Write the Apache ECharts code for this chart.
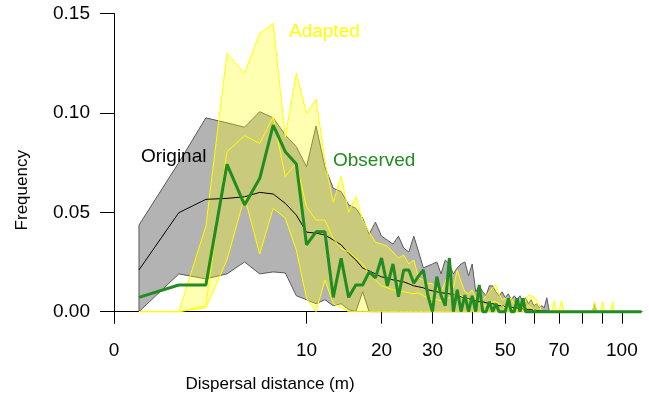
<!DOCTYPE html>
<html>
<head>
<meta charset="utf-8">
<script src="https://cdn.jsdelivr.net/npm/echarts@6/dist/echarts.min.js"></script>
<style>
  html, body { margin: 0; padding: 0; background: #fff; }
  #chart { width: 649px; height: 399px; }
</style>
</head>
<body>
<div id="chart"></div>
<script>
// distance classes (m)
var distance = [1,2,3,4,5,6,7,8,9,10,11,12,13,14,15,16,17,18,19,20,
  21,22,23,24,25,26,27,28,29,30,31,32,33,34,35,36,37,38,39,40,
  41,42,43,44,45,46,47,48,49,50,51,52,53,54,55,56,57,58,59,60,
  61,62,63,64,65,66,67,68,69,70,71,72,73,74,75,76,77,78,79,80,
  81,82,83,84,85,86,87,88,89,90,91,92,93,94,95,96,97,98,99,100,
  101,102,103,104,105,106,107,108,109,110,111];

// Original kernel: lower / median / upper envelope
var originalLow = [0,0.019,0.0165,0.019,0.025,0.019,0.020,0.0195,0.008,0.006,
  0.004,0.006,0.003,0.004,0.001,0,0.010,0,0,0,
  0,0,0,0,0,0,0,0,0,0,0,0,0,0,0,0,0,0,0,0,
  0,0,0,0,0,0,0,0,0,0,0,0,0,0,0,0,0,0,0,0,
  0,0,0,0,0,0,0,0,0,0,0,0,0,0,0,0,0,0,0,0,
  0,0,0,0,0,0,0,0,0,0,0,0,0,0,0,0,0,0,0,0,
  0,0,0,0,0,0,0,0,0,0,0];
var originalMid = [0.021,0.0498,0.0565,0.057,0.0578,0.060,0.0592,0.0545,0.0486,0.040,
  0.0395,0.0386,0.0361,0.0336,0.0294,0.026,0.022,0.0205,0.019,0.0175,
  0.017,0.016,0.0155,0.015,0.014,0.013,0.0125,0.012,0.011,0.0105,
  0.010,0.0095,0.0093,0.009,0.0085,0.008,0.0075,0.007,0.0065,0.006,
  0.0055,0.005,0.005,0.0045,0.004,0.004,0.0035,0.003,0.003,0.0025,
  0.0022,0.002,0.002,0.0018,0.0015,0.0013,0.0012,0.001,0.001,0.0008,
  0.0006,0.0005,0.0004,0.0003,0.0003,0,0,0,0,0,
  0,0,0,0,0,0,0,0,0,0,0,0,0,0,0,0,0,0,0,0,
  0,0,0,0,0,0,0,0,0,0,0,0,0,0,0,0,0,0,0,0,0];
var originalHigh = [0.0436,0.075,0.0975,0.095,0.0928,0.1006,0.0975,0.0889,0.083,0.0729,
  0.0934,0.0729,0.0621,0.0604,0.0537,0.052,0.047,0.039,0.045,0.038,
  0.036,0.034,0.038,0.032,0.030,0.038,0.030,0.022,0.023,0.024,
  0.025,0.019,0.026,0.024,0.019,0.022,0.024,0.025,0.018,0.024,
  0.010,0.013,0.010,0.008,0.013,0.013,0.010,0.008,0.010,0.007,
  0.009,0.006,0.008,0.006,0.008,0.005,0.007,0.004,0.006,0.003,
  0.004,0.002,0.003,0.002,0.007,0,0,0,0,0,
  0,0,0,0,0,0,0,0,0,0,0,0,0,0,0,0.004,0,0,0,0,
  0,0,0,0,0,0,0,0,0,0,0,0,0,0,0,0,0,0,0,0,0];

// Adapted kernel: lower / median / upper envelope
var adaptedLow = [0,0,0.002,0.026,0.0578,0.029,0.052,0.047,0.031,0.0067,
  0,0.016,0.004,0.002,0,0,0,0,0,0,
  0,0,0,0,0,0,0,0,0,0,0,0,0,0,0,0,0,0,0,0,
  0,0,0,0,0,0,0,0,0,0,0,0,0,0,0,0,0,0,0,0,
  0,0,0,0,0,0,0,0,0,0,0,0,0,0,0,0,0,0,0,0,
  0,0,0,0,0,0,0,0,0,0,0,0,0,0,0,0,0,0,0,0,
  0,0,0,0,0,0,0,0,0,0,0];
var adaptedMid = [0,0,0.003,0.0805,0.0885,0.0847,0.098,0.068,0.0747,0.0528,
  0.0461,0.0461,0.0369,0.0319,0.030,0.027,0.024,0.019,0.016,0.013,
  0.012,0.011,0.010,0.010,0.0095,0.009,0.0095,0.008,0.007,0.006,
  0.006,0.0055,0.006,0.007,0.008,0.009,0.008,0.007,0.006,0.005,
  0.004,0.004,0.003,0.003,0.004,0.005,0.005,0.004,0.003,0.002,
  0.002,0.002,0.001,0.001,0.001,0.001,0.002,0.003,0.002,0.001,
  0,0,0,0,0,0,0,0,0,0,0,0,0,0,0,0,0,0,0,0,
  0,0,0,0,0,0,0,0,0,0,0,0,0,0,0,0,0,0,0,0,0,0,0,0,0,0,0,0,0,0,0];
var adaptedHigh = [0,0,0.043,0.130,0.120,0.140,0.145,0.088,0.120,0.0998,
  0.107,0.076,0.055,0.068,0.050,0.058,0.046,0.040,0.035,0.034,
  0.033,0.030,0.027,0.0285,0.024,0.026,0.017,0.016,0.0143,0.014,
  0.012,0.010,0.015,0.021,0.012,0.021,0.015,0.010,0.009,0.011,
  0.007,0.009,0.006,0.008,0.010,0.012,0.0134,0.009,0.006,0.007,
  0.005,0.007,0.004,0.006,0.003,0.002,0.006,0.0084,0.008,0.0075,
  0.006,0.004,0,0,0,0,0,0.0055,0,0,
  0.0055,0,0,0,0,0,0,0,0,0,0,0,0,0,0,0.005,0,0,0,0.005,
  0,0,0,0,0.005,0,0,0,0,0,0,0,0,0,0,0];

// Observed dispersal
var observed = [0.0072,0.0134,0.0134,0.0741,0.0537,0.0671,0.0939,0.0805,0.0743,0.0336,
  0.0402,0.0402,0.0072,0.0269,0.0072,0.0134,0.0134,0.020,0.017,0.027,
  0.013,0.024,0.0075,0.021,0.021,0.0143,0.018,0.021,0.008,0,
  0.0176,0.008,0.003,0.027,0,0.011,0,0.0084,0,0.008,
  0,0.0134,0,0,0.005,0,0.004,0,0,0,
  0.0067,0,0,0.0067,0,0.0067,0,0,0,0,
  0,0,0,0,0,0,0,0,0,0,0,0,0,0,0,0,0,0,0,0,
  0,0,0,0,0,0,0,0,0,0,0,0,0,0,0,0,0,0,0,0,0,0,0,0,0,0,0,0,0,0,0];

var xTicks = [0, 10, 20, 30, 40, 50, 60, 70, 80, 90, 100];
var xLabels = [0, 10, 20, 30, 50, 70, 100];
var yTicks = [0, 0.05, 0.10, 0.15];

// stretched distance axis
var P = 0.2746;
var ZERO_POS = 0.8685;
function pos(d) {
  return d > 0 ? Math.pow(d, P) : ZERO_POS;
}

var FONT = "'Liberation Sans', Arial, sans-serif";

function band(lower, upper, fill, stroke) {
  return {
    type: "custom",
    silent: true,
    data: [[pos(distance[0]), 0]],
    renderItem: function (params, api) {
      var pts = [];
      for (var i = 0; i < distance.length; i++) {
        pts.push(api.coord([pos(distance[i]), upper[i]]));
      }
      for (var j = distance.length - 1; j >= 0; j--) {
        pts.push(api.coord([pos(distance[j]), lower[j]]));
      }
      return {
        type: "polygon",
        shape: { points: pts },
        style: { fill: fill, stroke: stroke, lineWidth: 1 },
      };
    },
  };
}

function line(values, color, width) {
  return {
    type: "line",
    silent: true,
    symbol: "none",
    data: distance.map(function (d, i) {
      return [pos(d), values[i]];
    }),
    lineStyle: { color: color, width: width },
  };
}

var chartDom = document.getElementById("chart");
var myChart = echarts.init(chartDom);
var option;

option = {
  animation: false,
  grid: {
    left: 102,
    right: 7,
    top: 13.5,
    bottom: 76,
    containLabel: false,
    outerBoundsMode: "none",
  },
  xAxis: {
    type: "value",
    min: 0.8054,
    max: 3.6475,
    axisLine: { show: true, onZero: true, lineStyle: { color: "#000", width: 1 } },
    axisTick: {
      show: true,
      customValues: xTicks.map(pos),
      length: 12,
      lineStyle: { color: "#000" },
    },
    axisLabel: {
      customValues: xLabels.map(pos),
      formatter: function (v) {
        for (var i = 0; i < xLabels.length; i++) {
          if (Math.abs(pos(xLabels[i]) - v) < 1e-6) return String(xLabels[i]);
        }
        return "";
      },
      margin: 18,
      fontSize: 19,
      color: "#000",
      fontFamily: FONT,
    },
    splitLine: { show: false },
    name: "Dispersal distance (m)",
    nameLocation: "middle",
    nameGap: 53,
    nameTextStyle: {
      fontSize: 17,
      color: "#000",
      fontFamily: FONT,
      padding: [0, 204, 0, 0],
    },
  },
  yAxis: {
    type: "value",
    min: -0.0057,
    max: 0.15,
    offset: -12,
    axisLine: { show: true, onZero: false, lineStyle: { color: "#000", width: 1 } },
    axisTick: {
      show: true,
      customValues: yTicks,
      length: 14,
      lineStyle: { color: "#000" },
    },
    axisLabel: {
      customValues: yTicks,
      formatter: function (v) {
        return v.toFixed(2);
      },
      margin: 24,
      fontSize: 19,
      color: "#000",
      fontFamily: FONT,
    },
    splitLine: { show: false },
    name: "Frequency",
    nameLocation: "middle",
    nameGap: 83,
    nameTextStyle: {
      fontSize: 17,
      color: "#000",
      fontFamily: FONT,
      padding: [0, 44, 0, 0],
    },
  },
  graphic: [
    {
      type: "text",
      z: 100,
      x: 141,
      y: 157,
      style: { text: "Original", font: "19px " + FONT, fill: "#000", verticalAlign: "middle" },
    },
    {
      type: "text",
      z: 100,
      x: 289,
      y: 32,
      style: { text: "Adapted", font: "19px " + FONT, fill: "#FFFF00", verticalAlign: "middle" },
    },
    {
      type: "text",
      z: 100,
      x: 333,
      y: 161,
      style: { text: "Observed", font: "19px " + FONT, fill: "#228B22", verticalAlign: "middle" },
    },
  ],
  series: [
    band(originalLow, originalHigh, "#B3B3B3", "#5A5A5A"),
    line(originalMid, "#000", 1),
    band(adaptedLow, adaptedHigh, "rgba(255,255,0,0.3)", "#FFFF00"),
    line(adaptedMid, "#FFFF00", 1),
    line(observed, "#228B22", 3),
  ],
};

option && myChart.setOption(option);
</script>
</body>
</html>
